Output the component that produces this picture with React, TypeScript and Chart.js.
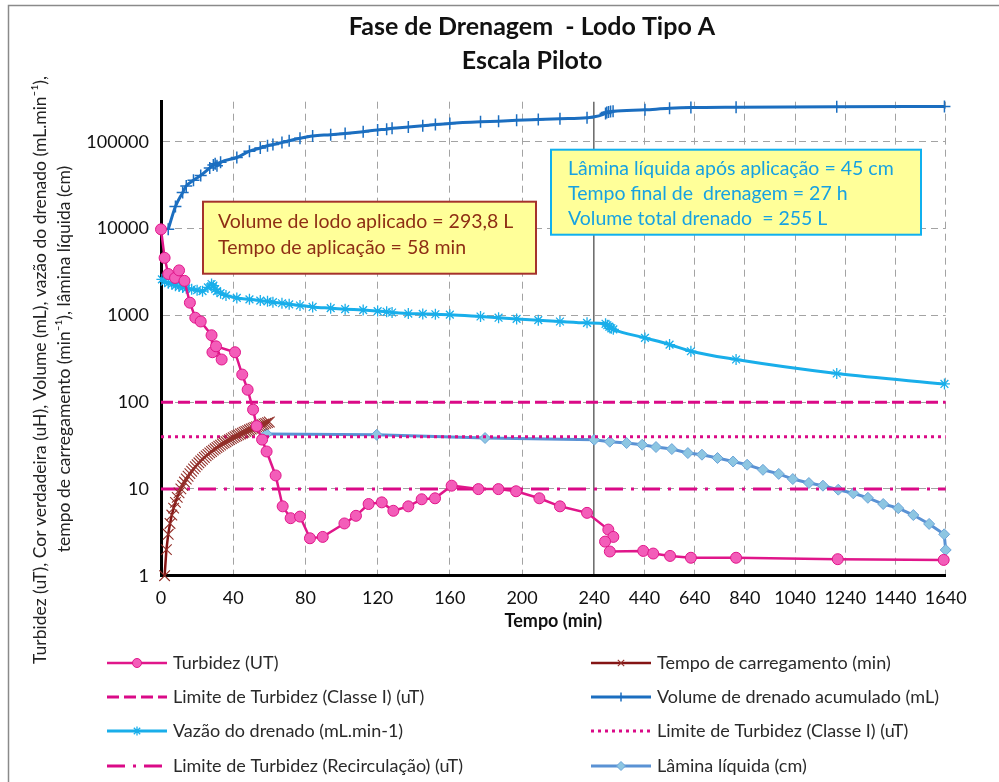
import React, { useEffect, useRef } from 'react';
import { Chart, registerables } from 'chart.js';
import { drawPoint } from 'chart.js/helpers';

Chart.register(...registerables);

const FONT = 'Lato, "Open Sans", sans-serif';

// ---- axis definitions ----
const X_TICK_LABELS = [0, 40, 80, 120, 160, 200, 240, 440, 640, 840, 1040, 1240, 1440, 1640];
const BREAK_T = 240;
const RIGHT_RATIO = 0.13906; // compression of the time axis after the 240 min break
const Y_TICKS = [1, 10, 100, 1000, 10000, 100000];
const Y_MAX = 290000;

const pos = (t: number) => (t <= BREAK_T ? t : BREAK_T + (t - BREAK_T) * RIGHT_RATIO);

// ---- data ----
const TURB_T = [0, 2, 4, 7.8, 10, 13, 16, 19, 22, 28, 28.5, 33.6, 30.5, 41, 45, 48, 51, 53, 56, 58.5, 63.5, 67.4, 71.8, 77, 82.5, 89.6, 101.6, 108, 115, 122.3, 128.7, 137, 144.4, 151.8, 161, 175.8, 186.9, 196.7, 209.6, 221, 236, 296, 316, 283, 302, 435, 475, 542, 625, 805, 1210, 1632];
const TURB_V = [9800, 4600, 3000, 2700, 3300, 2500, 1400, 940, 850, 590, 376, 310, 440, 376, 208, 139, 82, 53, 37, 27, 14.3, 6.3, 4.6, 4.8, 2.7, 2.8, 4.0, 4.9, 6.7, 7.0, 5.6, 6.3, 7.6, 7.8, 10.9, 9.95, 9.95, 9.4, 7.8, 6.3, 5.3, 3.4, 2.8, 2.47, 1.9, 1.93, 1.8, 1.69, 1.61, 1.61, 1.55, 1.52];

const CARG_T = [2, 3, 4, 5, 6, 7, 8, 9, 10, 11, 12, 13, 14, 15, 16, 17, 18, 19, 20, 21, 22, 23, 24, 25, 26, 27, 28, 29, 30, 31, 32, 33, 34, 35, 36, 37, 38, 39, 40, 41, 42, 43, 44, 45, 46, 47, 48, 49, 50, 51, 52, 53, 54, 55, 56, 57, 58, 59, 60];
const CARG_V = [1, 2, 3, 4, 5, 6, 7, 8, 9, 10, 11, 12, 13, 14, 15, 16, 17, 18, 19, 20, 21, 22, 23, 24, 25, 26, 27, 28, 29, 30, 31, 32, 33, 34, 35, 36, 37, 38, 39, 40, 41, 42, 43, 44, 45, 46, 47, 48, 49, 50, 51, 52, 53, 54, 55, 56, 57, 58, 59];

const LIM_T = [0, 1640];
const LIM_CLASSE1_100 = [100, 100];
const LIM_CLASSE1_40 = [40, 40];
const LIM_RECIRC = [10, 10];

const VOL_T = [4, 8, 12, 14, 18, 22, 27, 29, 30, 31, 33, 42, 49, 55, 59, 62, 67, 71, 77, 84, 94, 102, 112, 120, 125, 128, 137, 145, 152, 160, 177, 187, 197, 209, 221, 236, 285, 290, 297, 305, 315, 442, 540, 625, 805, 1206, 1635];
const VOL_V = [9800, 18000, 26000, 31000, 36000, 41000, 50000, 54000, 56000, 53000, 58000, 66000, 78000, 85000, 90000, 93000, 98000, 103000, 110000, 117000, 121000, 125000, 131000, 137000, 140000, 143000, 148000, 153000, 158000, 163000, 170000, 173000, 177000, 181000, 185000, 190000, 212000, 218000, 221000, 223000, 225000, 234000, 243000, 248000, 251000, 254000, 255000];

const VAZ_T = [0.5, 2, 4, 6, 8, 10, 12, 14, 17, 20, 23, 26, 28, 29, 30, 31, 33, 36, 42, 49, 55, 59, 62, 67, 71, 77, 84, 94, 102, 112, 120, 125, 128, 137, 145, 152, 160, 177, 187, 197, 209, 221, 236, 285, 292, 300, 308, 316, 442, 540, 625, 805, 1206, 1635];
const VAZ_V = [2600, 2450, 2350, 2300, 2200, 2150, 2100, 2050, 2000, 1950, 1900, 2100, 2300, 2200, 2000, 1900, 1800, 1700, 1590, 1530, 1480, 1450, 1420, 1380, 1340, 1300, 1250, 1210, 1180, 1150, 1120, 1100, 1080, 1050, 1040, 1030, 1020, 970, 940, 910, 880, 850, 820, 800, 770, 740, 710, 690, 550, 461, 386, 310, 214, 162];

const LAM_T = [58.5, 119.5, 179.5, 240, 302, 369, 431, 486, 549, 613, 669, 731, 793, 849, 912, 975, 1031, 1095, 1151, 1212, 1272, 1330, 1391, 1451, 1511, 1574, 1634, 1640];
const LAM_V = [43, 42, 38.6, 36.9, 35, 33.8, 32.3, 30.4, 28.8, 25.9, 24.8, 22.7, 20.7, 19, 16.6, 14.9, 13, 11.7, 10.9, 9.8, 8.9, 7.9, 6.7, 6.0, 5.0, 3.95, 3.0, 1.98];

const TITLE_LINES = ['Fase de Drenagem  - Lodo Tipo A', 'Escala Piloto'];
const Y_TITLE_LINES = [
  'Turbidez (uT), Cor verdadeira (uH), Volume (mL), vazão do drenado (mL.min⁻¹),',
  'tempo de carregamento (min⁻¹), lâmina líquida (cm)',
];
const BOX1_LINES = ['Volume de lodo aplicado = 293,8 L', 'Tempo de aplicação = 58 min'];
const BOX2_LINES = ['Lâmina líquida após aplicação = 45 cm', 'Tempo final de  drenagem = 27 h', 'Volume total drenado  = 255 L'];

const pts = (ts: number[], vs: number[]) => ts.map((t, i) => ({ x: pos(t), y: vs[i] }));

const MAGENTA = '#DA0A87';

const decor = {
  id: 'decor',
  afterDraw(chart: any) {
    const { ctx, chartArea: ca } = chart;
    ctx.save();
    // outer frame
    ctx.strokeStyle = '#8a8a8a';
    ctx.lineWidth = 1.5;
    ctx.beginPath();
    ctx.moveTo(8.5, 782);
    ctx.lineTo(8.5, 5.5);
    ctx.lineTo(999, 5.5);
    ctx.stroke();

    // title
    ctx.fillStyle = '#111';
    ctx.textAlign = 'center';
    ctx.textBaseline = 'middle';
    ctx.font = `bold 25px ${FONT}`;
    ctx.fillText(TITLE_LINES[0], 532, 27);
    ctx.fillText(TITLE_LINES[1], 532, 61);

    // y-axis title (rotated)
    ctx.save();
    ctx.translate(40, 370);
    ctx.rotate(-Math.PI / 2);
    ctx.font = `17.5px ${FONT}`;
    ctx.fillStyle = '#222';
    ctx.fillText(Y_TITLE_LINES[0], 0, 0);
    ctx.restore();
    ctx.save();
    ctx.translate(64, 359);
    ctx.rotate(-Math.PI / 2);
    ctx.font = `17.5px ${FONT}`;
    ctx.fillStyle = '#222';
    ctx.fillText(Y_TITLE_LINES[1], 0, 0);
    ctx.restore();

    // annotation box 1
    const b1 = { x: ca.left + 42, y: ca.top + 100, w: 333, h: 72 };
    ctx.fillStyle = '#FFFF99';
    ctx.fillRect(b1.x, b1.y, b1.w, b1.h);
    ctx.strokeStyle = '#A5322C';
    ctx.lineWidth = 2;
    ctx.strokeRect(b1.x, b1.y, b1.w, b1.h);
    ctx.fillStyle = '#8E2E14';
    ctx.textAlign = 'left';
    ctx.font = `19.5px ${FONT}`;
    ctx.fillText(BOX1_LINES[0], b1.x + 15, b1.y + 20);
    ctx.fillText(BOX1_LINES[1], b1.x + 15, b1.y + 46);

    // annotation box 2
    const b2 = { x: ca.left + 390, y: ca.top + 48, w: 370, h: 85 };
    ctx.fillStyle = '#FFFF99';
    ctx.fillRect(b2.x, b2.y, b2.w, b2.h);
    ctx.strokeStyle = '#10B0EE';
    ctx.lineWidth = 2;
    ctx.strokeRect(b2.x, b2.y, b2.w, b2.h);
    ctx.fillStyle = '#17A2E2';
    ctx.fillText(BOX2_LINES[0], b2.x + 17, b2.y + 19);
    ctx.fillText(BOX2_LINES[1], b2.x + 17, b2.y + 44);
    ctx.fillText(BOX2_LINES[2], b2.x + 17, b2.y + 69);

    // legend (two columns, row-wise order)
    const rows = [663, 697, 731, 766];
    const cols = [107, 591];
    const lineLen = 60;
    chart.data.datasets.forEach((ds: any, i: number) => {
      const r = Math.floor(i / 2);
      const c = i % 2;
      const x0 = cols[c];
      const y = rows[r];
      ctx.save();
      ctx.strokeStyle = ds.borderColor;
      ctx.lineWidth = ds.borderWidth;
      ctx.setLineDash(ds.borderDash || []);
      ctx.beginPath();
      ctx.moveTo(x0, y);
      ctx.lineTo(x0 + lineLen, y);
      ctx.stroke();
      ctx.setLineDash([]);
      if (ds.pointRadius > 0) {
        ctx.fillStyle = ds.pointBackgroundColor || ds.borderColor;
        ctx.strokeStyle = ds.pointBorderColor || ds.borderColor;
        ctx.lineWidth = ds.pointBorderWidth || 1;
        drawPoint(ctx, { pointStyle: ds.pointStyle, radius: 4.5, borderWidth: ds.pointBorderWidth || 1, rotation: 0 } as any, x0 + lineLen / 2, y);
      }
      ctx.fillStyle = '#2a2a2a';
      ctx.font = `18px ${FONT}`;
      ctx.textAlign = 'left';
      ctx.textBaseline = 'middle';
      ctx.fillText(ds.label, x0 + lineLen + 6, y);
      ctx.restore();
    });
    ctx.restore();
  },
};

export default function App() {
  const ref = useRef<HTMLCanvasElement>(null);
  useEffect(() => {
    const canvas = ref.current;
    if (!canvas) return;
    const datasets: any[] = [
      {
        label: 'Turbidez (UT)', data: pts(TURB_T, TURB_V), borderColor: '#E0168A', borderWidth: 2.5,
        pointStyle: 'circle', pointRadius: 5.5, pointBackgroundColor: '#F35DB9', pointBorderColor: '#E0168A', pointBorderWidth: 1,
      },
      {
        label: 'Tempo de carregamento (min)', data: pts(CARG_T, CARG_V), borderColor: '#841414', borderWidth: 2.5,
        pointStyle: 'crossRot', pointRadius: 7.5, pointBackgroundColor: '#93302A', pointBorderColor: '#93302A', pointBorderWidth: 1.1,
      },
      {
        label: 'Limite de Turbidez (Classe I) (uT)', data: pts(LIM_T, LIM_CLASSE1_100), borderColor: MAGENTA, borderWidth: 3,
        borderDash: [12, 5], pointRadius: 0,
      },
      {
        label: 'Volume de drenado acumulado (mL)', data: pts(VOL_T, VOL_V), borderColor: '#1B6EC0', borderWidth: 3,
        pointStyle: 'cross', pointRadius: 6, pointBackgroundColor: '#1B6EC0', pointBorderColor: '#1B6EC0', pointBorderWidth: 1.5,
        cubicInterpolationMode: 'monotone',
      },
      {
        label: 'Vazão do drenado (mL.min-1)', data: pts(VAZ_T, VAZ_V), borderColor: '#19AEEA', borderWidth: 3,
        pointStyle: 'star', pointRadius: 5.5, pointBackgroundColor: '#19AEEA', pointBorderColor: '#19AEEA', pointBorderWidth: 1.3,
        cubicInterpolationMode: 'monotone',
      },
      {
        label: 'Limite de Turbidez (Classe I) (uT)', data: pts(LIM_T, LIM_CLASSE1_40), borderColor: MAGENTA, borderWidth: 3,
        borderDash: [3, 4], pointRadius: 0,
      },
      {
        label: 'Limite de Turbidez (Recirculação) (uT)', data: pts(LIM_T, LIM_RECIRC), borderColor: MAGENTA, borderWidth: 3,
        borderDash: [18, 8, 3, 8], pointRadius: 0,
      },
      {
        label: 'Lâmina líquida (cm)', data: pts(LAM_T, LAM_V), borderColor: '#5A92D4', borderWidth: 3,
        pointStyle: 'rectRot', pointRadius: 5.5, pointBackgroundColor: '#8DC6E2', pointBorderColor: '#6BA4D8', pointBorderWidth: 1,
      },
    ];
    datasets.forEach((d) => { d.clip = 10; d.fill = false; });

    const chart = new Chart(canvas, {
      type: 'line',
      data: { datasets },
      options: {
        responsive: false,
        devicePixelRatio: 1,
        animation: false,
        events: [],
        layout: { padding: { left: 0, right: 53.3, top: 101.7, bottom: 148 } },
        plugins: { legend: { display: false }, tooltip: { enabled: false }, title: { display: false } },
        scales: {
          x: {
            type: 'linear',
            min: 0,
            max: pos(1640),
            afterBuildTicks: (scale: any) => { scale.ticks = X_TICK_LABELS.map((t) => ({ value: pos(t) })); },
            afterFit: (scale: any) => { scale.height = 58.3; },
            ticks: {
              autoSkip: false, maxRotation: 0, minRotation: 0, padding: 12,
              color: '#111', font: { family: FONT, size: 18 },
              callback: (_v: any, i: number) => String(X_TICK_LABELS[i]),
            },
            grid: {
              drawTicks: false,
              color: (c: any) => (c.tick && Math.abs(c.tick.value - BREAK_T) < 1e-6 ? '#707070' : '#a3a3a3'),
              lineWidth: (c: any) => (c.tick && Math.abs(c.tick.value - BREAK_T) < 1e-6 ? 1.6 : 1),
            },
            border: {
              display: true, color: '#000', width: 3,
              dash: (c: any) => (c.tick && Math.abs(c.tick.value - BREAK_T) < 1e-6 ? [] : [7, 5]),
            },
            title: { display: true, text: 'Tempo (min)', color: '#111', font: { family: FONT, size: 18, weight: 'bold' }, padding: { top: 0, bottom: 2 } },
          },
          y: {
            type: 'logarithmic',
            min: 1,
            max: Y_MAX,
            afterBuildTicks: (scale: any) => { scale.ticks = Y_TICKS.map((v) => ({ value: v })); },
            afterFit: (scale: any) => { scale.width = 161; },
            ticks: {
              padding: 12, color: '#111', font: { family: FONT, size: 18 },
              callback: (v: any) => String(v),
            },
            grid: { drawTicks: false, color: '#a3a3a3', lineWidth: 1 },
            border: { display: true, color: '#000', width: 3, dash: [7, 5] },
          },
        },
      } as any,
      plugins: [decor],
    });
    return () => chart.destroy();
  }, []);
  return (
    <canvas
      ref={ref}
      width={999}
      height={782}
      style={{ position: 'absolute', left: 0, top: 0, width: 999, height: 782, background: '#fff' }}
    />
  );
}
